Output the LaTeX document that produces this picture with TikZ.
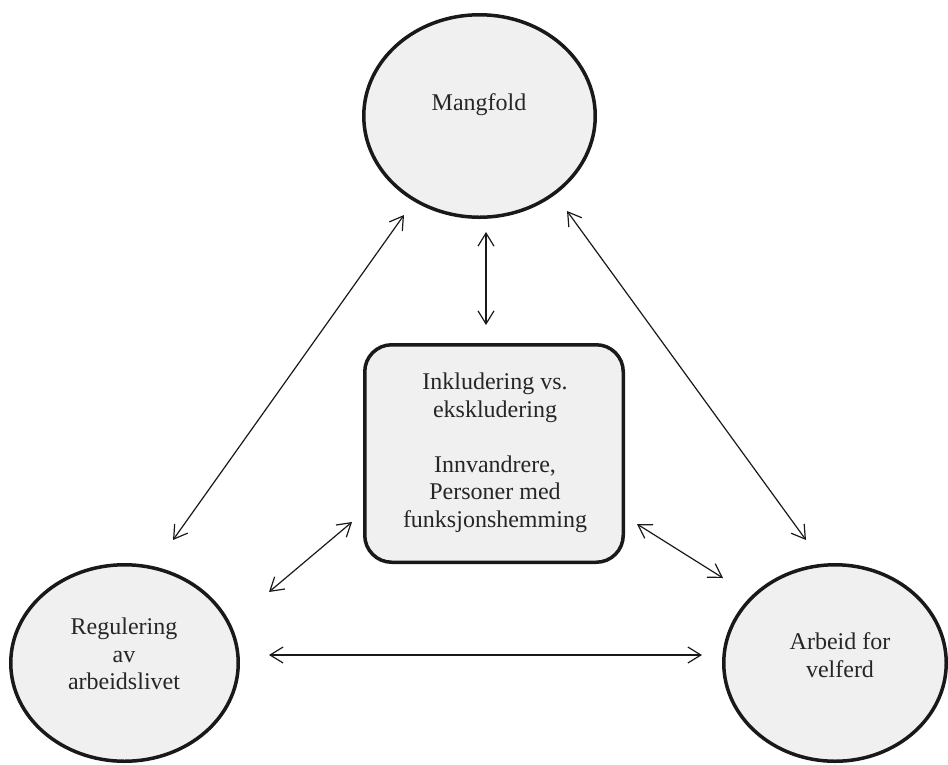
\documentclass[tikz,border=0pt]{standalone}
\usepackage{fontspec}
\setmainfont{Liberation Serif}
\usetikzlibrary{arrows.meta,shapes.geometric}
\begin{document}
\begin{tikzpicture}[x=1pt,y=-1pt,
  bubble/.style={ellipse, draw=black!90, line width=3.5pt, fill=black!6, inner sep=0pt},
  centrebox/.style={rectangle, rounded corners=27pt, draw=black!90, line width=3.5pt, fill=black!6, inner sep=0pt},
  caption/.style={font=\fontsize{24}{27.5}\selectfont, text=black!85, align=center, inner sep=0pt},
  link/.style={{Straight Barb[length=13pt,width=16pt]}-{Straight Barb[length=13pt,width=16pt]}, line width=1.2pt, draw=black!90}]
\useasboundingbox (0,0) rectangle (948,764);

% shapes
\node[bubble, minimum width=231.5pt, minimum height=202.5pt] (mang) at (479.5,116) {};
\node[bubble, minimum width=227.5pt, minimum height=196.5pt] (reg) at (124.5,663) {};
\node[bubble, minimum width=222.5pt, minimum height=196.5pt] (arb) at (835,663) {};
\node[centrebox, minimum width=258.5pt, minimum height=217.5pt] (inkl) at (494,453.5) {};

% texts
\node[caption] (tmang) at (479,105) {Mangfold};
\node[caption] (treg) at (124,654) {Regulering\\av\\arbeidslivet};
\node[caption] (tarb) at (840,655) {Arbeid for\\velferd};
\node[caption] (tinkl) at (495,453) {Inkludering vs.\\ekskludering\\[27.5pt]Innvandrere,\\Personer med\\funksjonshemming};

% connector ends
\coordinate (m1) at (486,232);   \coordinate (i1) at (486,325);
\coordinate (m2) at (404,215);   \coordinate (r2) at (173,540);
\coordinate (m3) at (567,211);   \coordinate (a3) at (806,540);
\coordinate (i4) at (352,522);   \coordinate (r4) at (269,592);
\coordinate (i5) at (637,524);   \coordinate (a5) at (723,578);
\coordinate (r6) at (269,655);   \coordinate (a6) at (702,655);

% connectors
\draw[link] (m1) -- (i1);
\draw[link] (m2) -- (r2);
\draw[link] (m3) -- (a3);
\draw[link] (i4) -- (r4);
\draw[link] (i5) -- (a5);
\draw[link] (r6) -- (a6);
\end{tikzpicture}
\end{document}
